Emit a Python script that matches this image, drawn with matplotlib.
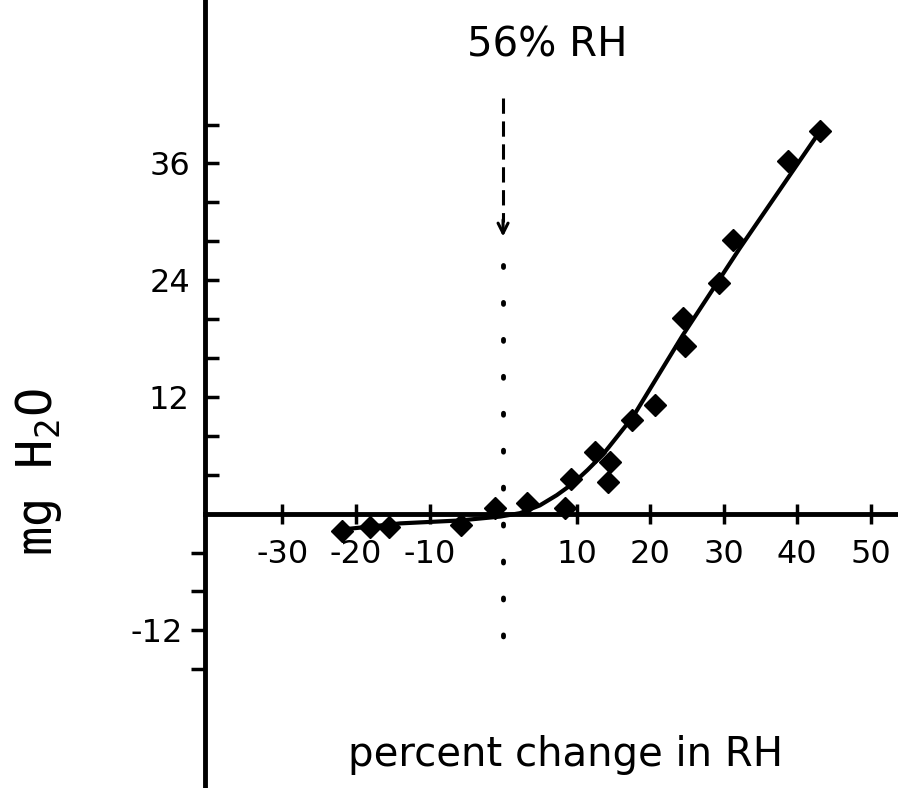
import matplotlib
matplotlib.use('Agg')
import matplotlib.pyplot as plt

# datos: cambio porcentual de HR vs mg de agua
rh_change = [-21.9, -18.1, -15.5, -5.7, -1.1, 3.3, 8.4, 9.3, 12.5, 14.6,
             14.3, 17.5, 20.7, 24.8, 24.5, 29.3, 31.3, 38.8, 43.1]
mg_water = [-1.8, -1.4, -1.4, -1.2, 0.6, 1.1, 0.6, 3.6, 6.3, 5.3,
            3.3, 9.6, 11.2, 17.2, 20.1, 23.7, 28.1, 36.2, 39.3]

# curva trazada a mano
curve_x = [-21.5, -14.0, -5.9, -0.4, 2.3, 5.0, 7.3, 9.5, 11.5, 13.6, 15.6,
           17.7, 24.4, 32.2, 42.9]
curve_y = [-1.6, -1.0, -0.7, -0.3, 0.05, 0.85, 1.9, 3.1, 4.5, 6.1, 8.0,
           10.0, 18.3, 27.3, 39.1]

# ejes
x_ticks = [-30, -20, -10, 10, 20, 30, 40, 50]
x_labels = ['-30', '-20', '-10', '10', '20', '30', '40', '50']
y_ticks = [4, 8, 12, 16, 20, 24, 28, 32, 36, 40]
y_labels = ['', '', '12', '', '', '24', '', '', '36', '']
y_neg_ticks = [-4, -8, -12, -16]
y_neg_labels = ['', '', '-12', '']

ref_rh = 0  # 56% RH

plt.rcParams['font.family'] = 'DejaVu Sans'
plt.rcParams['mathtext.fontset'] = 'custom'
plt.rcParams['mathtext.rm'] = 'DejaVu Sans Mono'

fig = plt.figure(figsize=(8.98, 7.88), dpi=100)
ax = fig.add_axes([0, 0, 1, 1])
ax.set_xlim(-68.4, 53.7)
ax.set_ylim(-28.2, 52.8)

for s in ['top', 'right']:
    ax.spines[s].set_visible(False)
ax.spines['left'].set_position(('data', -40.5))
ax.spines['bottom'].set_position(('data', 0))
ax.spines['bottom'].set_bounds(-40.5, 53.7)
ax.spines['left'].set_linewidth(3.5)
ax.spines['bottom'].set_linewidth(3.5)

ax.plot(curve_x, curve_y, color='black', lw=3, zorder=3,
        solid_joinstyle='round')
ax.plot(rh_change, mg_water, 'D', color='black', markersize=11, zorder=4)

# linea punteada y flecha de referencia
ax.plot([ref_rh, ref_rh], [25.6, -13.5], color='black', lw=3.5,
        linestyle=(0, (0.4, 7.2)), dash_capstyle='round')
ax.plot([ref_rh, ref_rh], [42.7, 30.0], color='black', lw=2.2,
        linestyle=(0, (5, 2.5)))
ax.annotate('', xy=(ref_rh, 28.2), xytext=(ref_rh, 30.5),
            arrowprops=dict(arrowstyle='->', color='black', lw=2.2,
                            mutation_scale=18))
ax.text(6.0, 48.1, '56% RH', ha='center', va='center', fontsize=29)

ax.set_xticks(x_ticks, x_labels)
ax.set_yticks(y_ticks, y_labels)
ax.set_yticks(y_neg_ticks, y_neg_labels, minor=True)
ax.tick_params(axis='x', direction='inout', length=14, width=2.5,
               labelsize=23, pad=11)
ax.tick_params(axis='y', which='major', direction='in', length=10,
               width=2.5, labelsize=23, pad=11)
ax.tick_params(axis='y', which='minor', direction='out', length=10,
               width=2.5, labelsize=23, pad=6)

ax.text(566 / 898, 1 - 755 / 788, 'percent change in RH', transform=ax.transAxes,
        ha='center', va='center', fontsize=29)
ax.text(39 / 898, 1 - 472 / 788, r'mg H$_{2}$O', transform=ax.transAxes,
        ha='center', va='center', rotation=90, fontsize=35,
        family='DejaVu Sans Mono')

fig.savefig('out.png', dpi=100)
